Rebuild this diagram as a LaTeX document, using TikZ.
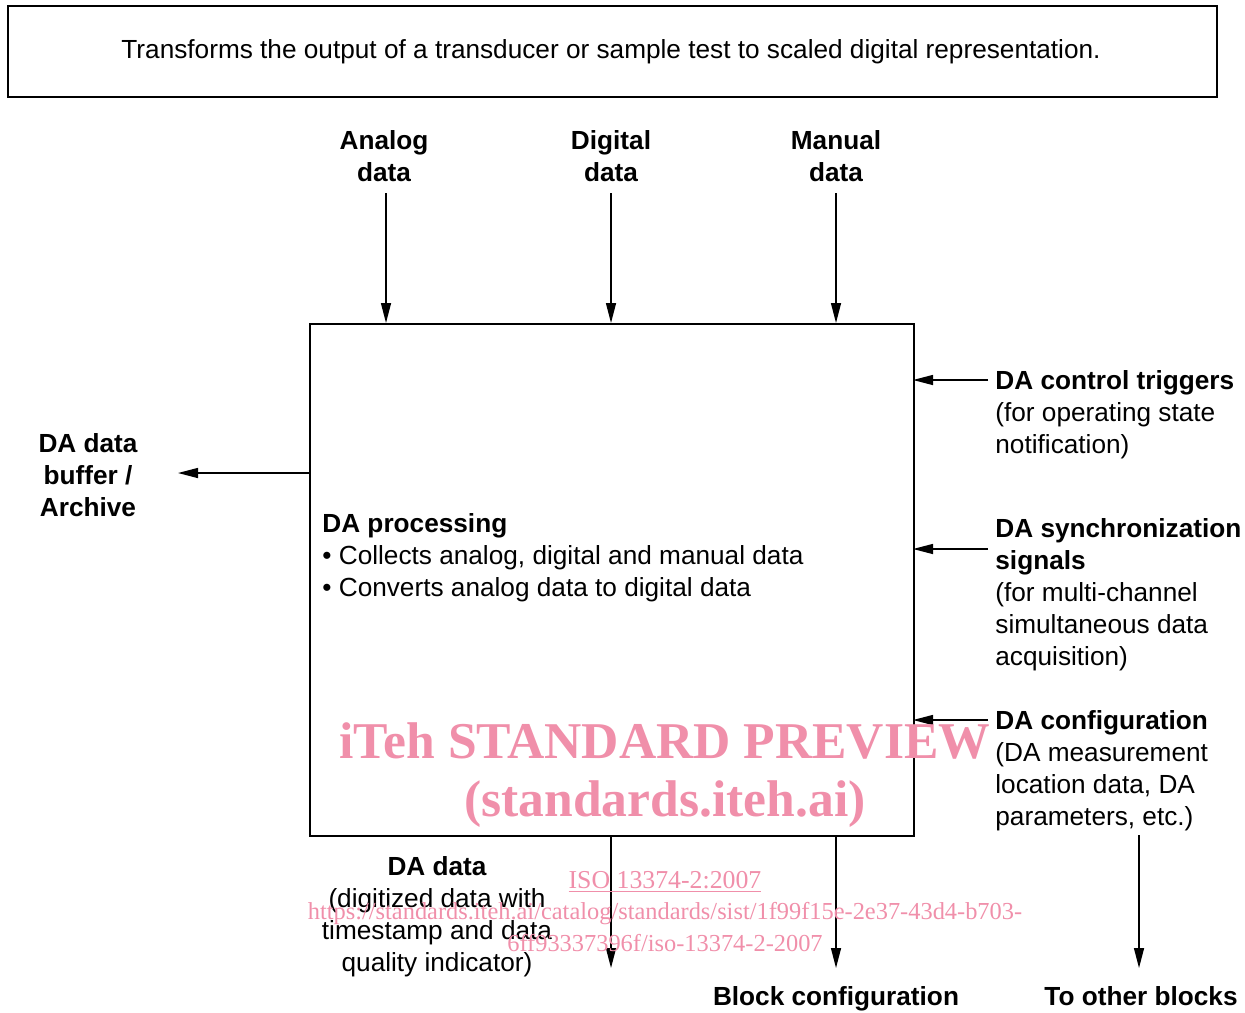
\documentclass[tikz,border=0pt]{standalone}
\usepackage{fontspec}
\setmainfont{Liberation Sans}
\newfontfamily\wmfont{Liberation Serif}
\usetikzlibrary{arrows.meta}
\definecolor{wmpink}{RGB}{240,143,170}
\begin{document}
\begin{tikzpicture}[x=0.5pt,y=-0.5pt,
  every node/.style={inner sep=0pt, font=\fontsize{13.1pt}{16pt}\selectfont},
  boxstyle/.style={draw, line width=0.9pt},
  arr/.style={line width=0.7pt, -{Triangle[length=10pt,width=5pt]}},
  lbl/.style={align=center, anchor=base},
  lblL/.style={align=left, anchor=base west},
  wm/.style={text=wmpink, font=\wmfont\fontsize{25.8pt}{30pt}\selectfont\bfseries, anchor=base}]
\useasboundingbox (0,0) rectangle (1245,1012);
% top box
\node[boxstyle, minimum width=604.5pt, minimum height=45.5pt, anchor=north west] (top) at (7,5) {};
\node[anchor=base] (toptext) at (611,58) {Transforms the output of a transducer or sample test to scaled digital representation.};
% main box
\node[boxstyle, minimum width=302pt, minimum height=256pt, anchor=north west] (main) at (309,323) {};
\node[lblL] (proc) at (322,596) {\bfseries DA processing\\
  \textbullet\ Collects analog, digital and manual data\\
  \textbullet\ Converts analog data to digital data};
% input labels
\node[lbl] (analog) at (384,181) {\bfseries Analog\\\bfseries data};
\node[lbl] (digital) at (611,181) {\bfseries Digital\\\bfseries data};
\node[lbl] (manual) at (836,181) {\bfseries Manual\\\bfseries data};
\coordinate (ain) at (386,193);
\coordinate (din) at (611,193);
\coordinate (min) at (836,193);
\draw[arr] (ain) -- (386,323);
\draw[arr] (din) -- (611,323);
\draw[arr] (min) -- (836,323);
% left output
\node[lbl] (buffer) at (88,516) {\bfseries DA data\\\bfseries buffer /\\\bfseries Archive};
\coordinate (bufend) at (178,473);
\draw[arr] (309,473) -- (bufend);
% right inputs
\node[lblL] (trig) at (995,453) {\bfseries DA control triggers\\(for operating state\\notification)};
\node[lblL] (sync) at (995,665) {\bfseries DA synchronization\\\bfseries signals\\(for multi-channel\\simultaneous data\\acquisition)};
\node[lblL] (conf) at (995,825) {\bfseries DA configuration\\(DA measurement\\location data, DA\\parameters, etc.)};
\coordinate (trigin) at (988,380);
\coordinate (syncin) at (988,549);
\coordinate (confin) at (988,720);
\draw[arr] (trigin) -- (913,380);
\draw[arr] (syncin) -- (913,549);
\draw[arr] (confin) -- (913,720);
% bottom outputs
\node[lbl] (dadata) at (437,971) {\bfseries DA data\\(digitized data with\\timestamp and data\\quality indicator)};
\node[lbl] (blockconf) at (836,1005) {\bfseries Block configuration};
\node[lbl] (other) at (1141,1005) {\bfseries To other blocks};
\coordinate (dout) at (611,968);
\coordinate (bout) at (836,968);
\coordinate (oout) at (1139,968);
\coordinate (ostart) at (1139,835);
\draw[arr] (611,835) -- (dout);
\draw[arr] (836,835) -- (bout);
\draw[arr] (ostart) -- (oout);
% watermark
\node[wm] (wm1) at (665,758) {iTeh STANDARD PREVIEW};
\node[wm] (wm2) at (665,816) {(standards.iteh.ai)};
\node[anchor=base, text=wmpink, font=\wmfont\fontsize{12.9pt}{16pt}\selectfont] (wm3) at (665,888) {\underline{ISO 13374-2:2007}};
\node[anchor=base, text=wmpink, align=center, font=\wmfont\fontsize{12.2pt}{16pt}\selectfont] (wm4) at (665,951) {https://standards.iteh.ai/catalog/standards/sist/1f99f15e-2e37-43d4-b703-\\6ff93337396f/iso-13374-2-2007};
\end{tikzpicture}
\end{document}
